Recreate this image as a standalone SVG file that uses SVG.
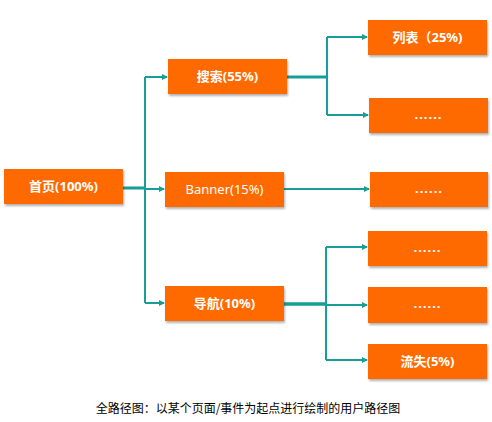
<svg xmlns="http://www.w3.org/2000/svg" width="492" height="422" viewBox="0 0 492 422">
<style>
.box{fill:#ff6a00;filter:url(#sh)}
.t{fill:#fff;font-family:"Noto Sans","Noto Sans CJK SC",sans-serif;font-size:13px;font-weight:bold;text-anchor:middle}
.c{fill:none;stroke:#179e98;stroke-width:2}
.cap{fill:#000;font-family:"Noto Sans CJK SC",sans-serif;font-size:12px;text-anchor:middle}
</style>
<defs>
<filter id="sh" x="-10%" y="-20%" width="130%" height="160%">
<feDropShadow dx="1" dy="2" stdDeviation="1" flood-color="#000" flood-opacity="0.3"/>
</filter>
<marker id="ar" markerWidth="6" markerHeight="6" refX="5" refY="3" orient="auto" markerUnits="userSpaceOnUse">
<path d="M0,0 L6,3 L0,6 Z" fill="#179e98"/>
</marker>
</defs>
<rect width="492" height="422" fill="#fff"/>
<g id="connectors">
<path class="c" d="M123,188 H145" style="stroke-width:3"/>
<path class="c" d="M145,77 V303"/>
<path class="c" d="M145,77 H167" marker-end="url(#ar)"/>
<path class="c" d="M145,303 H164" marker-end="url(#ar)"/>
<path class="c" d="M145,189 H164" marker-end="url(#ar)"/>
<path class="c" d="M287,77 H327" style="stroke-width:3"/>
<path class="c" d="M327,37 V115"/>
<path class="c" d="M327,37 H367" marker-end="url(#ar)"/>
<path class="c" d="M327,115 H368" marker-end="url(#ar)"/>
<path class="c" d="M284,189 H369" marker-end="url(#ar)"/>
<path class="c" d="M284,304 H326" style="stroke-width:3.5"/>
<path class="c" d="M326,247 V360"/>
<path class="c" d="M326,247 H367" marker-end="url(#ar)"/>
<path class="c" d="M326,305 H367" marker-end="url(#ar)"/>
<path class="c" d="M326,360 H367" marker-end="url(#ar)"/>
</g>
<g id="home"><rect class="box" x="4" y="169" width="119" height="35"/><text class="t" x="63.5" y="191">首页(100%)</text></g>
<g id="search"><rect class="box" x="168" y="59" width="119" height="35"/><text class="t" x="227.5" y="81">搜索(55%)</text></g>
<g id="banner"><rect class="box" x="165" y="172" width="119" height="35"/><text class="t" x="224.5" y="194" style="font-weight:normal">Banner(15%)</text></g>
<g id="nav"><rect class="box" x="165" y="286" width="119" height="35"/><text class="t" x="224.5" y="308">导航(10%)</text></g>
<g id="list"><rect class="box" x="368" y="20" width="119" height="35"/><text class="t" x="427.5" y="42">列表（25%)</text></g>
<g id="more1"><rect class="box" x="369" y="98" width="119" height="35"/><text class="t" x="428.5" y="119" letter-spacing="1">......</text></g>
<g id="more2"><rect class="box" x="370" y="172" width="118" height="35"/><text class="t" x="429" y="193" letter-spacing="1">......</text></g>
<g id="more3"><rect class="box" x="368" y="231" width="119" height="35"/><text class="t" x="427.5" y="252" letter-spacing="1">......</text></g>
<g id="more4"><rect class="box" x="368" y="287" width="119" height="36"/><text class="t" x="427.5" y="308" letter-spacing="1">......</text></g>
<g id="loss"><rect class="box" x="368" y="344" width="119" height="35"/><text class="t" x="427.5" y="366">流失(5%)</text></g>
<text class="cap" x="248" y="413">全路径图：以某个页面/事件为起点进行绘制的用户路径图</text>
</svg>
